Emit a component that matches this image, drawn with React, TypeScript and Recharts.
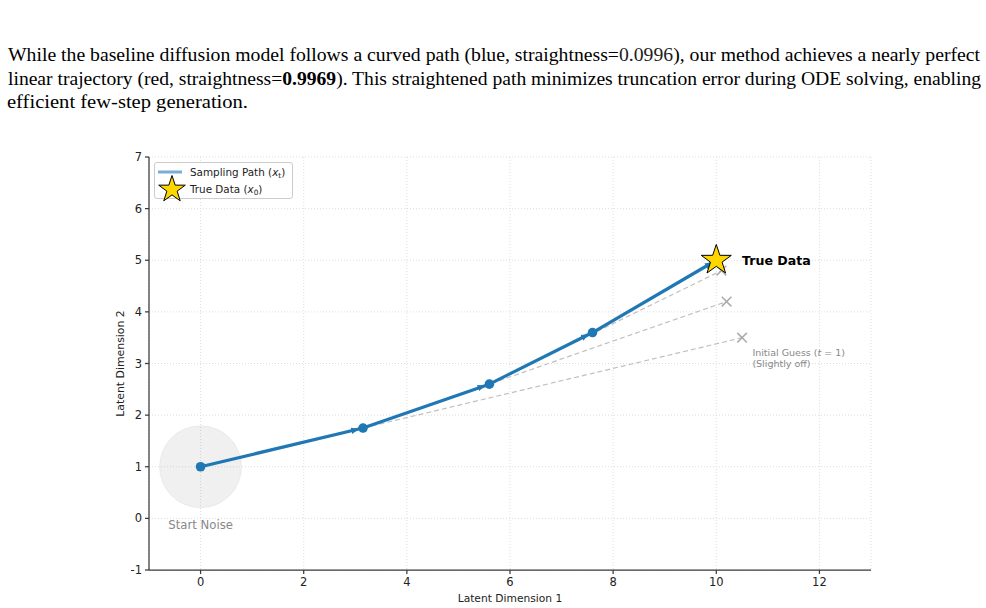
import React from 'react';
import { ComposedChart, Line, Scatter, XAxis, YAxis, CartesianGrid, Legend } from 'recharts';

// ---- data ----
const pathX = [0, 3.15, 5.6, 7.6, 10];
const pathY = [1, 1.75, 2.6, 3.6, 5];
const guessX = [10.5, 10.2, 10.1];
const guessY = [3.5, 4.2, 4.8];
const xTicks = [0, 2, 4, 6, 8, 10, 12];
const yTicks = [-1, 0, 1, 2, 3, 4, 5, 6, 7];
const startNoise = [{ x: 0, y: 1 }];
const trueData = [{ x: 10, y: 5 }];
const trueDataLabel = [{ x: 10.5, y: 5, text: 'True Data' }];
const startLabel = [{ x: 0, y: -0.12, text: 'Start Noise' }];
const guessLabel = [{ x: 10.7, y: 3.3, line1: 'Initial Guess (', line2: '(Slightly off)' }];

const points = pathX.map((x, i) => ({ x, y: pathY[i] }));
const segments = points.slice(0, -1).map((p, i) => [p, points[i + 1]]);
const guesses = guessX.map((x, i) => ({ x, y: guessY[i] }));
const guessLines = guesses.map((g, i) => [points[i], g]);
const pathDots = points.slice(0, -1);

const BLUE = '#1f77b4';
const FONT = 'DejaVu Sans, sans-serif';

const starPath = (cx: number, cy: number, R: number, r: number) => {
  let d = '';
  for (let i = 0; i < 10; i++) {
    const ang = -Math.PI / 2 + (i * Math.PI) / 5;
    const rad = i % 2 === 0 ? R : r;
    d += (i === 0 ? 'M' : 'L') + (cx + rad * Math.cos(ang)).toFixed(2) + ',' + (cy + rad * Math.sin(ang)).toFixed(2);
  }
  return d + 'Z';
};

const CircleShape = (p: any) => (
  <circle cx={p.cx} cy={p.cy} r={41} fill="#808080" fillOpacity={0.12} stroke="#808080" strokeOpacity={0.1} strokeWidth={1} />
);
const DotShape = (p: any) => <circle cx={p.cx} cy={p.cy} r={4.8} fill={BLUE} />;
const StarShape = (p: any) => (
  <path d={starPath(p.cx, p.cy, 15.8, 6.1)} fill="#FFD700" stroke="#000" strokeWidth={1} strokeLinejoin="miter" />
);
const CrossShape = (p: any) => (
  <g stroke="#aaaaaa" strokeWidth={1.5}>
    <line x1={p.cx - 4.8} y1={p.cy - 4.8} x2={p.cx + 4.8} y2={p.cy + 4.8} />
    <line x1={p.cx - 4.8} y1={p.cy + 4.8} x2={p.cx + 4.8} y2={p.cy - 4.8} />
  </g>
);
const TrueLabelShape = (p: any) => (
  <text x={p.cx} y={p.cy} dominantBaseline="central" fontFamily={FONT} fontWeight="bold" fontSize={12.6} fill="#000">
    {p.payload.text}
  </text>
);
const StartLabelShape = (p: any) => (
  <text x={p.cx} y={p.cy} dominantBaseline="central" textAnchor="middle" fontFamily={FONT} fontSize={11.7} fill="#888">
    {p.payload.text}
  </text>
);
const GuessLabelShape = (p: any) => (
  <text x={p.cx} y={p.cy} fontFamily={FONT} fontSize={9.5} fill="#888">
    <tspan x={p.cx} dy={8}>
      {p.payload.line1}
      <tspan fontStyle="italic">t</tspan>
      {' = 1)'}
    </tspan>
    <tspan x={p.cx} dy={10.5}>{p.payload.line2}</tspan>
  </text>
);

const LegendBox = () => (
  <div style={{ position: 'relative', boxSizing: 'border-box', width: 139, height: 37, border: '1px solid #cccccc', borderRadius: 3, background: 'rgba(255,255,255,0.8)' }}>
    <svg width={139} height={37} style={{ position: 'absolute', left: -1, top: -1, overflow: 'visible' }}>
      <line x1={4} x2={28} y1={10} y2={10} stroke={BLUE} strokeOpacity={0.6} strokeWidth={3} />
      <path d={starPath(18, 27.5, 14, 5.4)} fill="#FFD700" stroke="#000" strokeWidth={1} />
      <text x={36} y={10} dominantBaseline="central" fontFamily={FONT} fontSize={10.4} fill="#222">
        Sampling Path (<tspan fontStyle="italic">x</tspan>
        <tspan fontSize={7.3} dy={2.5}>t</tspan>
        <tspan dy={-2.5}>)</tspan>
      </text>
      <text x={36} y={27} dominantBaseline="central" fontFamily={FONT} fontSize={10.4} fill="#222">
        True Data (<tspan fontStyle="italic">x</tspan>
        <tspan fontSize={7.3} dy={2.5}>0</tspan>
        <tspan dy={-2.5}>)</tspan>
      </text>
    </svg>
  </div>
);

const XLabel = (props: any) => {
  const vb = props.viewBox;
  return (
    <text x={vb.x + vb.width / 2} y={vb.y + 28} textAnchor="middle" dominantBaseline="central" fontFamily={FONT} fontSize={10.7} fill="#222">
      Latent Dimension 1
    </text>
  );
};
const YLabel = (props: any) => {
  const vb = props.viewBox;
  const cx = vb.x + 11;
  const cy = vb.y + vb.height / 2;
  return (
    <text x={cx} y={cy} textAnchor="middle" dominantBaseline="central" transform={`rotate(-90, ${cx}, ${cy})`} fontFamily={FONT} fontSize={10.9} fill="#222">
      Latent Dimension 2
    </text>
  );
};

const XTick = (p: any) => (
  <text x={p.x} y={p.y} dy="0.75em" textAnchor="middle" fontFamily={FONT} fontSize={11.5} fill="#222">
    {p.payload.value}
  </text>
);
const YTick = (p: any) => (
  <text x={p.x} y={p.y} dominantBaseline="central" textAnchor="end" fontFamily={FONT} fontSize={11.5} fill="#222">
    {p.payload.value}
  </text>
);

const axisLineStyle = { stroke: '#3a3a3a', strokeWidth: 1.25 };

export default function App() {
  return (
    <div style={{ position: 'absolute', left: 0, top: 0, width: 986, height: 608, background: '#fff' }}>
      <svg width={986} height={130} style={{ position: 'absolute', left: 0, top: 0 }}>
        <g fontFamily="Liberation Serif, Times New Roman, serif" fontSize={19} fill="#000">
          <text x={8} y={61} textLength={972} lengthAdjust="spacingAndGlyphs">
            While the baseline diffusion model follows a curved path (blue, straightness=
            <tspan fill="#222">0.0996</tspan>), our method achieves a nearly perfect
          </text>
          <text x={8} y={84.5} textLength={973} lengthAdjust="spacingAndGlyphs">
            linear trajectory (red, straightness=<tspan fontWeight="bold">0.9969</tspan>). This straightened path minimizes truncation error during ODE solving, enabling
          </text>
          <text x={7} y={108} textLength={241} lengthAdjust="spacingAndGlyphs">
            efficient few-step generation.
          </text>
        </g>
      </svg>
      <div style={{ position: 'absolute', left: 0, top: 0 }}>
        <ComposedChart width={986} height={608} margin={{ top: 157, right: 115, bottom: 0, left: 109 }}>
          <defs>
            <marker id="arrowHead" markerUnits="userSpaceOnUse" markerWidth={8} markerHeight={8} viewBox="0 0 8 8" refX={12} refY={4} orient="auto">
              <path d="M0,0.8 L8,4 L0,7.2 z" fill={BLUE} />
            </marker>
          </defs>
          <CartesianGrid stroke="#d6d6d6" strokeDasharray="1 2" strokeWidth={0.8} />
          <XAxis
            type="number"
            dataKey="x"
            domain={[-1, 13]}
            ticks={xTicks}
            allowDataOverflow
            height={38}
            tick={<XTick />}
            tickSize={4}
            tickMargin={3}
            axisLine={axisLineStyle}
            tickLine={axisLineStyle}
            label={<XLabel />}
          />
          <YAxis
            type="number"
            dataKey="y"
            domain={[-1, 7]}
            ticks={yTicks}
            allowDataOverflow
            width={40}
            tick={<YTick />}
            tickSize={4}
            tickMargin={3}
            axisLine={axisLineStyle}
            tickLine={axisLineStyle}
            label={<YLabel />}
          />
          <Scatter data={startNoise} shape={CircleShape} isAnimationActive={false} zIndex={50} />
          {guessLines.map((d, i) => (
            <Line
              key={'g' + i}
              data={d}
              dataKey="y"
              stroke="#c0c0c0"
              strokeWidth={1.2}
              strokeDasharray="5 3"
              dot={false}
              activeDot={false}
              isAnimationActive={false}
            />
          ))}
          {segments.map((d, i) => (
            <Line
              key={'s' + i}
              data={d}
              dataKey="y"
              stroke={BLUE}
              strokeWidth={3.2}
              dot={false}
              activeDot={false}
              markerEnd="url(#arrowHead)"
              isAnimationActive={false}
            />
          ))}
          <Scatter data={guesses} shape={CrossShape} isAnimationActive={false} />
          <Scatter data={pathDots} shape={DotShape} isAnimationActive={false} />
          <Scatter data={trueData} shape={StarShape} isAnimationActive={false} />
          <Scatter data={trueDataLabel} shape={TrueLabelShape} isAnimationActive={false} />
          <Scatter data={startLabel} shape={StartLabelShape} isAnimationActive={false} />
          <Scatter data={guessLabel} shape={GuessLabelShape} isAnimationActive={false} />
          <Legend
            layout="horizontal"
            verticalAlign="middle"
            content={() => <LegendBox />}
            wrapperStyle={{ left: 154, top: 162, width: 139, height: 37 }}
          />
        </ComposedChart>
      </div>
    </div>
  );
}
